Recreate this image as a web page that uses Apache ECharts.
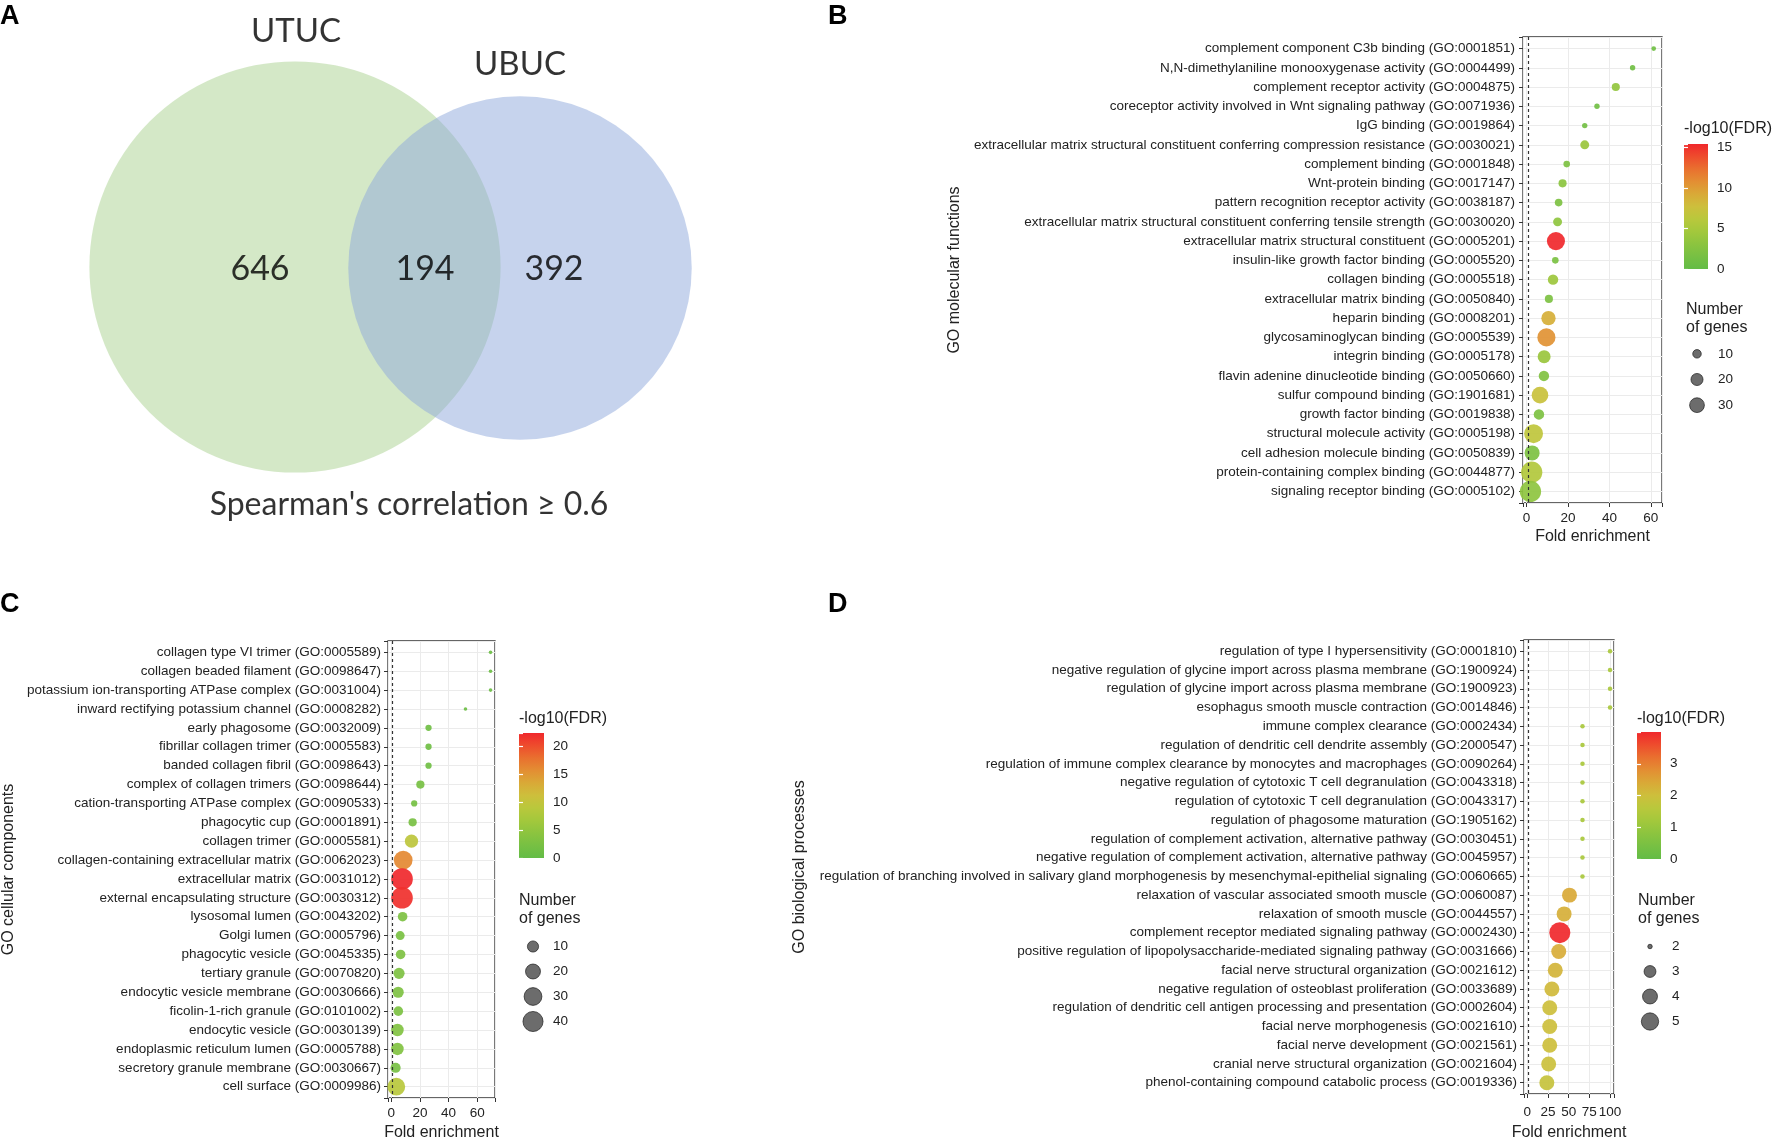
<!DOCTYPE html>
<html><head><meta charset="utf-8">
<script src="https://cdn.jsdelivr.net/npm/echarts@6/dist/echarts.min.js"></script>
<style>html,body{margin:0;padding:0;background:#fff}#c{width:1772px;height:1142px}</style>
</head><body><div id="c"></div>
<script>
// ---------------- Panel A : Venn ----------------
const vennSets = ['UTUC', 'UBUC'];
const vennOnly = [646, 392];
const vennOverlap = 194;
const vennNote = "Spearman's correlation \u2265 0.6";

// ---------------- Panel B : GO molecular functions ----------------
const bTerms = [
  'complement component C3b binding (GO:0001851)',
  'N,N-dimethylaniline monooxygenase activity (GO:0004499)',
  'complement receptor activity (GO:0004875)',
  'coreceptor activity involved in Wnt signaling pathway (GO:0071936)',
  'IgG binding (GO:0019864)',
  'extracellular matrix structural constituent conferring compression resistance (GO:0030021)',
  'complement binding (GO:0001848)',
  'Wnt-protein binding (GO:0017147)',
  'pattern recognition receptor activity (GO:0038187)',
  'extracellular matrix structural constituent conferring tensile strength (GO:0030020)',
  'extracellular matrix structural constituent (GO:0005201)',
  'insulin-like growth factor binding (GO:0005520)',
  'collagen binding (GO:0005518)',
  'extracellular matrix binding (GO:0050840)',
  'heparin binding (GO:0008201)',
  'glycosaminoglycan binding (GO:0005539)',
  'integrin binding (GO:0005178)',
  'flavin adenine dinucleotide binding (GO:0050660)',
  'sulfur compound binding (GO:1901681)',
  'growth factor binding (GO:0019838)',
  'structural molecule activity (GO:0005198)',
  'cell adhesion molecule binding (GO:0050839)',
  'protein-containing complex binding (GO:0044877)',
  'signaling receptor binding (GO:0005102)'
];
const bFold = [61.4, 51.2, 43.1, 34.0, 28.1, 28.1, 19.4, 17.4, 15.5, 15.0, 14.2, 13.9, 12.8, 10.8, 10.6, 9.6, 8.5, 8.4, 6.5, 6.0, 3.4, 2.7, 2.5, 1.9];
const bGenes = [3, 4, 9, 4, 4, 11, 6, 9, 8, 11, 45, 6, 15, 9, 28, 45, 23, 15, 38, 15, 49, 31, 62, 62];
const bLogFDR = [1.0, 1.1, 3.5, 1.1, 1.2, 4.0, 2.0, 3.0, 2.0, 3.3, 15.4, 1.8, 4.2, 2.0, 8.8, 10.5, 4.0, 2.3, 7.4, 2.0, 6.6, 2.0, 5.7, 3.2];
const bXTicks = [0, 20, 40, 60];
const bColorTicks = [0, 5, 10, 15];
const bSizeBreaks = [10, 20, 30];

// ---------------- Panel C : GO cellular components ----------------
const cTerms = [
  'collagen type VI trimer (GO:0005589)',
  'collagen beaded filament (GO:0098647)',
  'potassium ion-transporting ATPase complex (GO:0031004)',
  'inward rectifying potassium channel (GO:0008282)',
  'early phagosome (GO:0032009)',
  'fibrillar collagen trimer (GO:0005583)',
  'banded collagen fibril (GO:0098643)',
  'complex of collagen trimers (GO:0098644)',
  'cation-transporting ATPase complex (GO:0090533)',
  'phagocytic cup (GO:0001891)',
  'collagen trimer (GO:0005581)',
  'collagen-containing extracellular matrix (GO:0062023)',
  'extracellular matrix (GO:0031012)',
  'external encapsulating structure (GO:0030312)',
  'lysosomal lumen (GO:0043202)',
  'Golgi lumen (GO:0005796)',
  'phagocytic vesicle (GO:0045335)',
  'tertiary granule (GO:0070820)',
  'endocytic vesicle membrane (GO:0030666)',
  'ficolin-1-rich granule (GO:0101002)',
  'endocytic vesicle (GO:0030139)',
  'endoplasmic reticulum lumen (GO:0005788)',
  'secretory granule membrane (GO:0030667)',
  'cell surface (GO:0009986)'
];
const cFold = [69.3, 69.3, 69.3, 51.8, 26.0, 26.0, 26.0, 20.3, 16.0, 14.9, 14.1, 8.3, 7.5, 7.5, 7.9, 6.2, 6.5, 5.4, 4.8, 4.9, 4.3, 4.3, 3.0, 3.5];
const cGenes = [2, 2, 2, 2, 3, 3, 3, 5, 3, 5, 15, 34, 47, 47, 7, 6, 7, 10, 10, 7, 13, 13, 8, 30];
const cLogFDR = [1.1, 1.1, 1.1, 1.1, 1.5, 1.5, 1.5, 2.2, 2.0, 2.3, 9.4, 16.0, 22.3, 21.8, 2.9, 2.6, 3.0, 3.0, 3.0, 2.8, 3.3, 3.3, 2.2, 8.9];
const cXTicks = [0, 20, 40, 60];
const cColorTicks = [0, 5, 10, 15, 20];
const cSizeBreaks = [10, 20, 30, 40];

// ---------------- Panel D : GO biological processes ----------------
const dTerms = [
  'regulation of type I hypersensitivity (GO:0001810)',
  'negative regulation of glycine import across plasma membrane (GO:1900924)',
  'regulation of glycine import across plasma membrane (GO:1900923)',
  'esophagus smooth muscle contraction (GO:0014846)',
  'immune complex clearance (GO:0002434)',
  'regulation of dendritic cell dendrite assembly (GO:2000547)',
  'regulation of immune complex clearance by monocytes and macrophages (GO:0090264)',
  'negative regulation of cytotoxic T cell degranulation (GO:0043318)',
  'regulation of cytotoxic T cell degranulation (GO:0043317)',
  'regulation of phagosome maturation (GO:1905162)',
  'regulation of complement activation, alternative pathway (GO:0030451)',
  'negative regulation of complement activation, alternative pathway (GO:0045957)',
  'regulation of branching involved in salivary gland morphogenesis by mesenchymal-epithelial signaling (GO:0060665)',
  'relaxation of vascular associated smooth muscle (GO:0060087)',
  'relaxation of smooth muscle (GO:0044557)',
  'complement receptor mediated signaling pathway (GO:0002430)',
  'positive regulation of lipopolysaccharide-mediated signaling pathway (GO:0031666)',
  'facial nerve structural organization (GO:0021612)',
  'negative regulation of osteoblast proliferation (GO:0033689)',
  'regulation of dendritic cell antigen processing and presentation (GO:0002604)',
  'facial nerve morphogenesis (GO:0021610)',
  'facial nerve development (GO:0021561)',
  'cranial nerve structural organization (GO:0021604)',
  'phenol-containing compound catabolic process (GO:0019336)'
];
const dFold = [100, 100, 100, 100, 66.7, 66.7, 66.7, 66.7, 66.7, 66.7, 66.7, 66.7, 66.7, 51.0, 44.5, 39.3, 38.0, 33.8, 29.7, 27.1, 27.1, 27.1, 25.8, 23.6];
const dGenes = [2, 2, 2, 2, 2, 2, 2, 2, 2, 2, 2, 2, 2, 4, 4, 7, 4, 4, 4, 4, 4, 4, 4, 4];
const dLogFDR = [1.3, 1.3, 1.3, 1.3, 1.3, 1.3, 1.3, 1.3, 1.3, 1.3, 1.3, 1.3, 1.3, 2.4, 2.3, 4.0, 2.35, 2.2, 2.1, 2.0, 2.0, 2.0, 1.95, 1.85];
const dXTicks = [0, 25, 50, 75, 100];
const dColorTicks = [0, 1, 2, 3];
const dSizeBreaks = [2, 3, 4, 5];

// ---------------- styling ----------------
const FONT = "'Liberation Sans', Arial, sans-serif";
const VFONT = "Lato, 'Open Sans', sans-serif";
const COLORS = ['#63BC46','#77C043','#8CC43F','#A3C83C','#B9C83C','#CDBF3C','#D9A937','#E38E33','#E9702F','#EE4C2D','#F0282C'];
const TXT = '#222';

const chart = echarts.init(document.getElementById('c'), null, {renderer: 'canvas'});
const grids = [], xAxes = [], yAxes = [], series = [], visualMaps = [], titles = [];
function addGrid(r, extra) {
  grids.push(Object.assign({left: r[0], top: r[1], width: r[2], height: r[3], containLabel: false}, extra || {}));
  return grids.length - 1;
}
function addX(o) { xAxes.push(o); return xAxes.length - 1; }
function addY(o) { yAxes.push(o); return yAxes.length - 1; }
function title(text, left, top, style) {
  titles.push({text, left, top, padding: 0, textStyle: Object.assign({fontFamily: FONT, color: TXT, fontWeight: 'normal', fontSize: 16}, style || {})});
}

// ---------------- Panel A ----------------
(function () {
  const gi = addGrid([0, 0, 800, 540]);
  const xi = addX({gridIndex: gi, type: 'value', min: 0, max: 800, show: false});
  const yi = addY({gridIndex: gi, type: 'value', min: 0, max: 540, inverse: true, show: false});
  const totals = [vennOnly[0] + vennOverlap, vennOnly[1] + vennOverlap];
  const K = 205.6 / Math.sqrt(totals[0]);           // radius scale: circle area proportional to set size
  const centers = [[295, 267], [520, 268]];
  const fills = ['rgba(170,209,143,0.5)', 'rgba(142,168,220,0.5)'];
  totals.forEach((t, i) => {
    series.push({type: 'scatter', xAxisIndex: xi, yAxisIndex: yi, silent: true, z: 1 + i,
      data: [[centers[i][0], centers[i][1], t]],
      symbolSize: v => 2 * K * Math.sqrt(v[2]),
      itemStyle: {color: fills[i], opacity: 1}});
  });
  const txt = [
    {value: [296, 31], name: vennSets[0], fs: 33},
    {value: [520, 64], name: vennSets[1], fs: 33},
    {value: [260, 269], name: String(vennOnly[0]), fs: 34},
    {value: [425, 269], name: String(vennOverlap), fs: 34},
    {value: [554, 269], name: String(vennOnly[1]), fs: 34},
    {value: [409, 505], name: vennNote, fs: 32}
  ];
  series.push({type: 'scatter', xAxisIndex: xi, yAxisIndex: yi, silent: true, z: 5,
    symbolSize: 1, itemStyle: {color: 'rgba(0,0,0,0)'},
    data: txt.map(t => ({value: t.value, name: t.name,
      label: {show: true, position: 'inside', formatter: '{b}', fontSize: t.fs, fontFamily: VFONT, color: '#000'}}))});
})();

// ---------------- dot plot panels ----------------
function dotPanel(p) {
  const gi = addGrid(p.rect, {show: true, borderColor: '#333', borderWidth: 1.3, backgroundColor: '#fff'});
  const step = p.xTicks[1] - p.xTicks[0];
  const n = p.terms.length;
  const xi = addX({gridIndex: gi, type: 'value', min: p.xRange[0], max: p.xRange[1], minInterval: step, maxInterval: step,
    axisLine: {show: false, onZero: false},
    axisTick: {show: true, length: 4, lineStyle: {color: '#333'}},
    axisLabel: {color: TXT, fontSize: 13.5, fontFamily: FONT, margin: p.xLabelMargin, showMinLabel: true, showMaxLabel: true,
      formatter: v => (p.xTicks.indexOf(v) >= 0 ? String(v) : '')},
    splitLine: {show: true, lineStyle: {color: '#EBEBEB', width: 1}},
    name: 'Fold enrichment', nameLocation: 'middle', nameGap: p.xNameGap,
    nameTextStyle: {fontSize: 16, color: TXT, fontFamily: FONT}});
  const yi = addY({gridIndex: gi, type: 'value', inverse: true, min: -0.6, max: n - 1 + 0.6, minInterval: 1, maxInterval: 1,
    axisLine: {show: false, onZero: false},
    axisTick: {show: true, length: 4, lineStyle: {color: '#333'}},
    axisLabel: {color: TXT, fontSize: p.labelSize, fontFamily: FONT, margin: p.labelMargin, showMinLabel: true, showMaxLabel: true,
      formatter: v => (Number.isInteger(v) && v >= 0 && v < n ? p.terms[Math.abs(v)] : '')},
    splitLine: {show: true, lineStyle: {color: '#EBEBEB', width: 1}},
    name: p.yName, nameLocation: 'middle', nameGap: p.yNameGap, nameRotate: 90,
    nameTextStyle: {fontSize: 16, color: TXT, fontFamily: FONT}});
  const si = series.length;
  series.push({type: 'scatter', xAxisIndex: xi, yAxisIndex: yi, z: 3,
    data: p.fold.map((f, i) => [f, i, p.genes[i], p.fdr[i]]),
    symbolSize: v => p.sizeFn(v[2]),
    itemStyle: {opacity: 0.92},
    emphasis: {disabled: true},
    markLine: {silent: true, symbol: 'none', label: {show: false}, animation: false,
      lineStyle: {type: [3, 3], color: '#333', width: 1.2}, data: [{xAxis: 1}]}});
  const fmax = Math.max.apply(null, p.fdr);
  visualMaps.push({type: 'continuous', show: false, seriesIndex: si, dimension: 3, min: 0, max: fmax,
    inRange: {color: COLORS}});

  // colour bar
  const cb = addGrid(p.cbRect);
  const cstep = p.colorTicks[1] - p.colorTicks[0];
  const cbx = addX({gridIndex: cb, type: 'category', data: [''], show: false});
  const cby = addY({gridIndex: cb, type: 'value', min: 0, max: fmax, minInterval: cstep, maxInterval: cstep, position: 'right',
    axisLine: {show: false, onZero: false}, splitLine: {show: false},
    axisTick: {show: true, inside: true, length: 4, lineStyle: {color: '#fff', width: 1.2}},
    axisLabel: {color: TXT, fontSize: 13.5, fontFamily: FONT, margin: 9, showMaxLabel: true,
      formatter: v => (p.colorTicks.indexOf(v) >= 0 ? String(v) : '')}});
  addY({gridIndex: cb, type: 'value', min: 0, max: fmax, minInterval: cstep, maxInterval: cstep, position: 'left',
    axisLine: {show: false, onZero: false}, splitLine: {show: false}, axisLabel: {show: false}, z: 5,
    axisTick: {show: true, inside: true, length: 4, lineStyle: {color: '#fff', width: 1.2}}});
  const stops = COLORS.map((c, i) => ({offset: i / (COLORS.length - 1), color: c}));
  series.push({type: 'bar', xAxisIndex: cbx, yAxisIndex: cby, data: [fmax], barWidth: '100%', silent: true, z: 1,
    itemStyle: {color: new echarts.graphic.LinearGradient(0, 1, 0, 0, stops)}});
  title('-log10(FDR)', p.cbTitle[0], p.cbTitle[1], {fontSize: 16});

  // size legend
  const sz = addGrid(p.szRect);
  const szx = addX({gridIndex: sz, type: 'value', min: -1, max: 1, show: false});
  const szy = addY({gridIndex: sz, type: 'category', inverse: true, position: 'right', data: p.sizeBreaks.map(String),
    axisLine: {show: false, onZero: false}, axisTick: {show: false}, splitLine: {show: false},
    axisLabel: {color: TXT, fontSize: 13.5, fontFamily: FONT, margin: p.szMargin}});
  series.push({type: 'scatter', xAxisIndex: szx, yAxisIndex: szy, silent: true,
    data: p.sizeBreaks.map((b, i) => [0, i, b]),
    symbolSize: v => p.sizeFn(v[2]),
    itemStyle: {color: '#474747', borderColor: '#111', borderWidth: 0.8}});
  title('Number\nof genes', p.szTitle[0], p.szTitle[1], {fontSize: 16, lineHeight: 18});
}

dotPanel({terms: bTerms, fold: bFold, genes: bGenes, fdr: bLogFDR, xTicks: bXTicks, colorTicks: bColorTicks, sizeBreaks: bSizeBreaks,
  rect: [1523, 37, 139, 466], xRange: [-1.7, 65.4], xLabelMargin: 8, xNameGap: 26, yName: 'GO molecular functions', yNameGap: 560,
  labelSize: 13.5, labelMargin: 8,
  sizeFn: n => 2.7 * Math.sqrt(n),
  cbRect: [1684, 144, 24, 125], cbTitle: [1684, 121],
  szRect: [1687, 341, 20, 77], szMargin: 11, szTitle: [1686, 301]});

dotPanel({terms: cTerms, fold: cFold, genes: cGenes, fdr: cLogFDR, xTicks: cXTicks, colorTicks: cColorTicks, sizeBreaks: cSizeBreaks,
  rect: [388, 641, 107, 466], xRange: [-2.3, 72.4], xLabelMargin: 8, xNameGap: 27, yName: 'GO cellular components', yNameGap: 371,
  labelSize: 13.5, labelMargin: 7,
  sizeFn: n => 3.6 + 2.68 * Math.sqrt(Math.max(n - 2, 0)),
  cbRect: [519, 733, 25, 125], cbTitle: [519, 711],
  szRect: [523, 934, 20, 100], szMargin: 10, szTitle: [519, 892]});

dotPanel({terms: dTerms, fold: dFold, genes: dGenes, fdr: dLogFDR, xTicks: dXTicks, colorTicks: dColorTicks, sizeBreaks: dSizeBreaks,
  rect: [1524, 640, 90, 466], xRange: [-4, 104.8], xLabelMargin: 11, xNameGap: 31, yName: 'GO biological processes', yNameGap: 716,
  labelSize: 13.5, labelMargin: 7,
  sizeFn: n => 4.5 + 7.4 * Math.sqrt(Math.max(n - 2, 0)),
  cbRect: [1637, 732, 24, 127], cbTitle: [1637, 711],
  szRect: [1640, 934, 20, 100], szMargin: 12, szTitle: [1638, 892]});

// panel letters
[['A', 0, 3], ['B', 828, 3], ['C', 0, 591], ['D', 828, 591]].forEach(l =>
  title(l[0], l[1], l[2], {fontSize: 27, fontWeight: 'bold', color: '#000'}));

chart.setOption({
  animation: false,
  backgroundColor: '#fff',
  title: titles,
  grid: grids,
  xAxis: xAxes,
  yAxis: yAxes,
  visualMap: visualMaps,
  series: series
});
</script></body></html>
